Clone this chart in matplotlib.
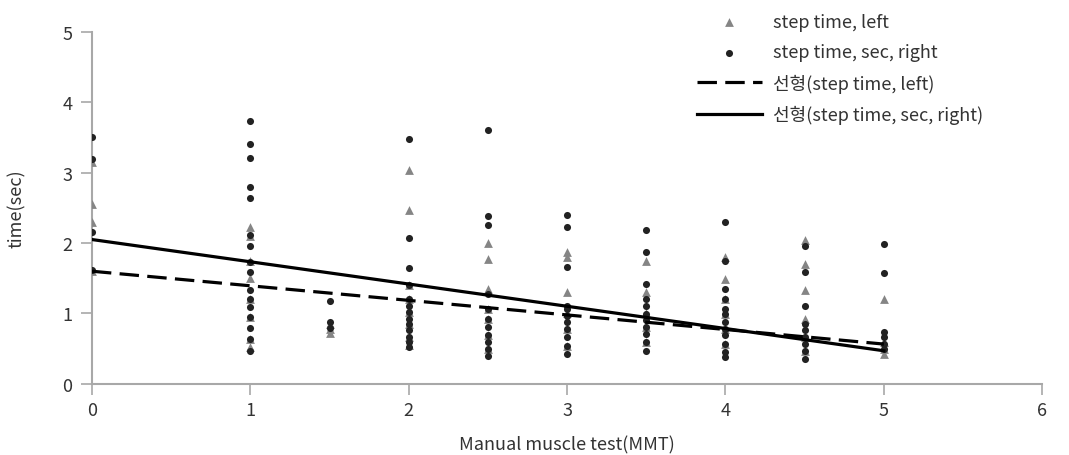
import numpy as np
import matplotlib
matplotlib.use("Agg")
import matplotlib.pyplot as plt

plt.rcParams['font.family'] = ['Noto Sans CJK KR', 'DejaVu Sans']
plt.rcParams['lines.scale_dashes'] = False

# MMT grades and step times
mmt_levels = [0, 1, 1.5, 2, 2.5, 3, 3.5, 4, 4.5, 5]

left_times = [
    [3.15, 2.55, 2.30, 1.60],
    [2.23, 2.10, 1.75, 1.50, 1.20, 0.95, 0.64, 0.53],
    [0.85, 0.78, 0.72],
    [3.04, 2.47, 1.40, 1.20, 1.02, 0.85, 0.67, 0.55],
    [2.00, 1.77, 1.35, 1.07, 0.92, 0.69, 0.50],
    [1.87, 1.80, 1.31, 1.00, 0.78, 0.54],
    [1.75, 1.30, 1.00, 0.81, 0.60],
    [1.80, 1.49, 1.21, 0.99, 0.78, 0.57],
    [2.04, 1.70, 1.34, 0.92, 0.67, 0.46],
    [1.20, 0.60, 0.50, 0.43],
]

right_times = [
    [3.51, 3.20, 2.15, 1.62],
    [3.74, 3.40, 3.21, 2.80, 2.64, 2.11, 1.96, 1.73, 1.59, 1.33, 1.21,
     1.09, 0.95, 0.80, 0.64, 0.46],
    [1.18, 0.88, 0.80],
    [3.48, 2.07, 1.65, 1.40, 1.21, 1.11, 1.02, 0.92, 0.85, 0.76, 0.67,
     0.60, 0.53],
    [3.61, 2.39, 2.26, 1.28, 1.07, 0.92, 0.81, 0.69, 0.60, 0.50, 0.40],
    [2.40, 2.23, 1.66, 1.11, 1.07, 0.97, 0.88, 0.78, 0.67, 0.54, 0.43],
    [2.18, 1.87, 1.42, 1.21, 1.11, 0.99, 0.90, 0.81, 0.71, 0.60, 0.46],
    [2.30, 1.75, 1.35, 1.21, 1.07, 0.99, 0.88, 0.78, 0.69, 0.57, 0.45,
     0.38],
    [1.96, 1.59, 1.11, 0.85, 0.76, 0.67, 0.57, 0.46, 0.36],
    [1.99, 1.58, 0.74, 0.67, 0.57, 0.50],
]

# linear trend lines (intercept, slope) as drawn
fit_left = (1.60, -0.207)
fit_right = (2.05, -0.316)
fit_x = np.array([0, 5])

xl = np.concatenate([[m] * len(v) for m, v in zip(mmt_levels, left_times)])
yl = np.concatenate(left_times)
xr = np.concatenate([[m] * len(v) for m, v in zip(mmt_levels, right_times)])
yr = np.concatenate(right_times)

fig = plt.figure(figsize=(10.69, 4.56), dpi=100)
ax = fig.add_axes([0.086, 0.156, 0.889, 0.772])

ax.scatter(xl, yl, marker='^', s=40, color='#858585', linewidths=0,
           label='step time, left', zorder=3)
ax.scatter(xr, yr, marker='o', s=26, color='#222222', linewidths=0,
           label='step time, sec, right', zorder=4)
ax.plot(fit_x, fit_left[0] + fit_left[1] * fit_x, color='black', lw=2.3,
        dashes=(14, 6), label='선형(step time, left)', zorder=5)
ax.plot(fit_x, fit_right[0] + fit_right[1] * fit_x, color='black', lw=2.3,
        label='선형(step time, sec, right)', zorder=5)

ax.set_xlim(0, 6)
ax.set_ylim(0, 5)
ax.set_xticks(range(0, 7))
ax.set_yticks(range(0, 6))

for s in ['top', 'right']:
    ax.spines[s].set_visible(False)
for s in ['left', 'bottom']:
    ax.spines[s].set_color('#a8a8a8')
    ax.spines[s].set_linewidth(1.5)
ax.tick_params(axis='both', colors='#a8a8a8', width=1.2, length=8,
               labelcolor='#333333', labelsize=13)
ax.tick_params(axis='x', pad=4)
ax.tick_params(axis='y', pad=6)

ax.set_xlabel('Manual muscle test(MMT)', fontsize=13, color='#333333',
              labelpad=12)
ax.set_ylabel('time(sec)', fontsize=13, color='#333333', labelpad=26)

fig.legend(loc='upper left', bbox_to_anchor=(0.645, 0.985), frameon=False,
           fontsize=13, handlelength=3.6, handletextpad=0.6,
           labelspacing=0.68, labelcolor='#333333', borderaxespad=0)

fig.savefig('out.png', dpi=100)
